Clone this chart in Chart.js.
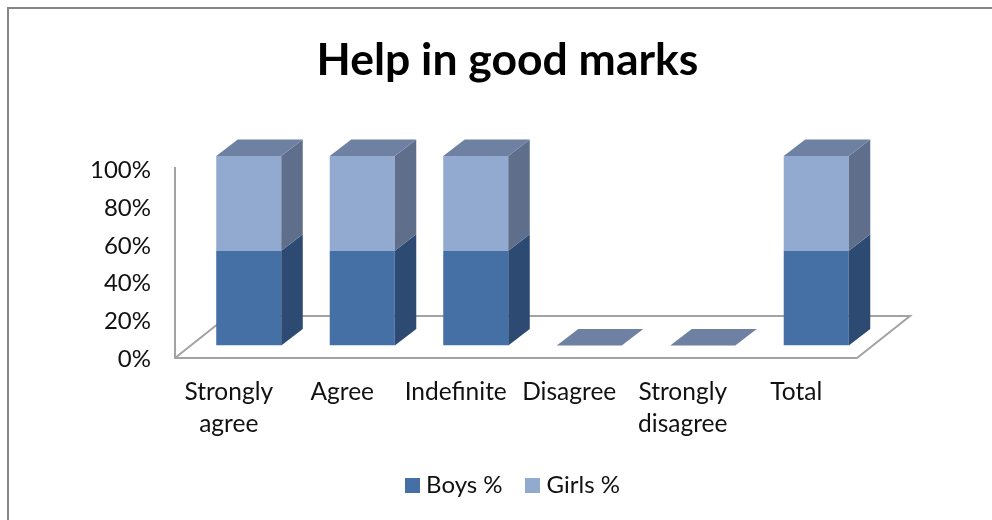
<!DOCTYPE html>
<html>
<head>
<meta charset="utf-8">
<style>
  html, body { margin: 0; padding: 0; background: #fff; overflow: hidden; }
  canvas { display: block; }
</style>
<script src="https://cdn.jsdelivr.net/npm/chart.js@4/dist/chart.umd.min.js"></script>
</head>
<body>
<canvas id="marksChart" width="992" height="520"></canvas>
<script>
const categories = [["Strongly", "agree"], "Agree", "Indefinite", "Disagree", ["Strongly", "disagree"], "Total"];
const boysPct = [50, 50, 50, 0, 0, 50];
const girlsPct = [50, 50, 50, 0, 0, 50];
const tickValues = [0, 20, 40, 60, 80, 100];

const FONT = "Lato, 'Open Sans', sans-serif";
const BOYS = "#4470a5";
const GIRLS = "#92a9d0";
const DEPTH_X = 21.5;
const DEPTH_Y = 16.5;

function poly(ctx, pts, fill) {
  ctx.beginPath();
  pts.forEach((p, i) => (i ? ctx.lineTo(p[0], p[1]) : ctx.moveTo(p[0], p[1])));
  ctx.closePath();
  ctx.fillStyle = fill;
  ctx.fill();
}

// legend square as an image, so the text can sit closer to it than the default gap
function swatch(color) {
  const c = document.createElement("canvas");
  c.width = 15;
  c.height = 15;
  const g = c.getContext("2d");
  g.fillStyle = color;
  g.fillRect(0, 0, 15, 15);
  return c;
}
const swatches = [swatch(BOYS), swatch(GIRLS)];

// fake 3D: floor + axis behind the bars, side and top faces on the bars
const fake3d = {
  id: "fake3d",
  afterLayout(chart) {
    chart.legend.left += 15; // legend sits a bit right of the title
  },
  beforeDraw(chart) {
    const { ctx } = chart;
    ctx.save();
    ctx.fillStyle = "#868686";
    ctx.fillRect(7, 7, chart.width - 7, 2);
    ctx.fillRect(7, 7, 2, chart.height - 7);
    ctx.restore();
  },
  beforeDatasetsDraw(chart) {
    const { ctx, chartArea: a } = chart;
    const fl = a.left - 17, fb = a.bottom + 12.5, fr = a.right - 16, bd = 53, bh = 42;
    ctx.save();
    ctx.strokeStyle = "#a3a3a3";
    ctx.lineWidth = 2;
    ctx.beginPath();
    ctx.moveTo(fl, a.top + 11);
    ctx.lineTo(fl, fb);
    ctx.lineTo(fr, fb);
    ctx.lineTo(fr + bd, fb - bh);
    ctx.lineTo(fl + bd, fb - bh);
    ctx.lineTo(fl, fb);
    ctx.stroke();
    ctx.restore();
  },
  afterDatasetsDraw(chart) {
    const { ctx } = chart;
    const sides = ["#2c4a72", "#5f6f8b"];
    ctx.save();
    chart.data.datasets.forEach((ds, d) => {
      chart.getDatasetMeta(d).data.forEach((bar) => {
        const r = bar.x + bar.width / 2;
        if (bar.base - bar.y > 0) {
          poly(ctx, [[r, bar.y], [r + DEPTH_X, bar.y - DEPTH_Y], [r + DEPTH_X, bar.base - DEPTH_Y], [r, bar.base]], sides[d]);
        }
      });
    });
    // top face sits on the last stacked dataset
    const last = chart.data.datasets.length - 1;
    chart.getDatasetMeta(last).data.forEach((bar) => {
      const l = bar.x - bar.width / 2, r = bar.x + bar.width / 2;
      poly(ctx, [[l, bar.y], [r, bar.y], [r + DEPTH_X, bar.y - DEPTH_Y], [l + DEPTH_X, bar.y - DEPTH_Y]], "#6f81a3");
    });
    ctx.restore();
  },
};

new Chart(document.getElementById("marksChart"), {
  type: "bar",
  data: {
    labels: categories,
    datasets: [
      { label: "Boys %", data: boysPct, backgroundColor: BOYS },
      { label: "Girls %", data: girlsPct, backgroundColor: GIRLS },
    ],
  },
  plugins: [fake3d],
  options: {
    responsive: false,
    animation: false,
    barPercentage: 0.573,
    categoryPercentage: 1,
    layout: { padding: { left: 23, bottom: 13 } },
    plugins: {
      tooltip: { enabled: false },
      title: {
        display: true,
        text: "Help in good marks",
        color: "#000",
        font: { family: FONT, size: 44.5, weight: "bold", lineHeight: 1.2 },
        padding: { top: 34, bottom: 68.6 },
      },
      legend: {
        position: "bottom",
        labels: {
          usePointStyle: true,
          boxWidth: 4,
          boxHeight: 15,
          padding: 28,
          color: "#111",
          font: { family: FONT, size: 24 },
          generateLabels: (chart) =>
            Chart.defaults.plugins.legend.labels.generateLabels(chart).map((item, i) => ({ ...item, pointStyle: swatches[i] })),
        },
      },
    },
    scales: {
      x: {
        stacked: true,
        grid: { display: false },
        border: { display: false },
        afterFit: (s) => { s.height = 99.5; },
        ticks: {
          color: "#111",
          font: { family: FONT, size: 24.5, lineHeight: 1.32 },
          padding: 22,
          labelOffset: -20,
          maxRotation: 0,
          autoSkip: false,
        },
      },
      y: {
        stacked: true,
        min: 0,
        max: 100,
        grid: { display: false, drawTicks: false },
        border: { display: false },
        afterFit: (s) => { s.width = 169; },
        afterBuildTicks: (s) => { s.ticks = tickValues.map((v) => ({ value: v })); },
        ticks: {
          color: "#111",
          font: { family: FONT, size: 24 },
          padding: 41,
          labelOffset: 14,
          callback: (v) => v + "%",
        },
      },
      // empty axis, only keeps the room to the right of the plot
      spacer: {
        type: "linear",
        position: "right",
        display: true,
        grid: { display: false, drawTicks: false },
        border: { display: false },
        ticks: { display: false },
        afterFit: (s) => { s.width = 119; },
      },
    },
  },
});
</script>
</body>
</html>
